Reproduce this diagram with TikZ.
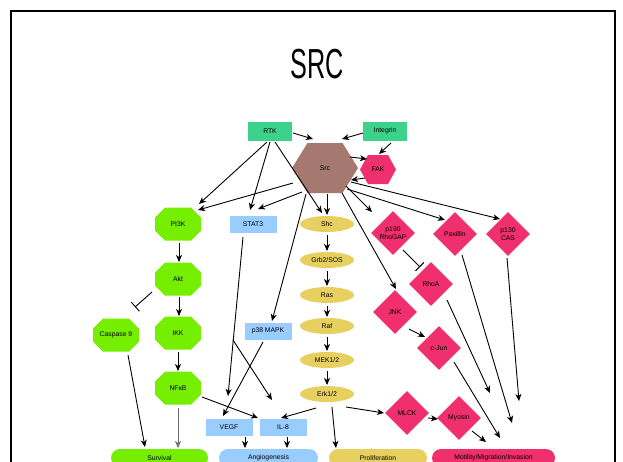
\documentclass[tikz,border=0pt]{standalone}
\usepackage{fontspec}
\setmainfont{Liberation Sans}
\newfontfamily\titlefont[FakeStretch=0.6]{Liberation Sans}
\usetikzlibrary{shapes.geometric,arrows.meta}
\definecolor{rtkgreen}{RGB}{60,210,140}
\definecolor{srcbrown}{RGB}{165,120,112}
\definecolor{hotpink}{RGB}{240,48,110}
\definecolor{limegr}{RGB}{118,238,0}
\definecolor{ltblue}{RGB}{153,204,255}
\definecolor{mustard}{RGB}{232,208,96}
\definecolor{arrgray}{RGB}{110,110,110}
\tikzset{
  lbl/.style={font=\fontsize{6.8}{8}\selectfont, text=black, inner sep=0pt},
  greenbox/.style={lbl, rectangle, fill=rtkgreen, minimum width=44pt, minimum height=19pt},
  bluebox/.style={lbl, rectangle, fill=ltblue, minimum width=47pt, minimum height=17pt},
  yellipse/.style={lbl, ellipse, fill=mustard, minimum width=54pt, minimum height=16pt},
  pinkdia/.style={lbl, diamond, aspect=1, fill=hotpink, minimum width=44pt, minimum height=44pt, align=center},
  outcome/.style={lbl, rectangle, rounded corners=9pt, minimum height=18pt},
  octlbl/.style={lbl, rectangle, minimum width=46pt, minimum height=33pt},
  arr/.style={draw=black, line width=0.9pt, -{Stealth[length=7pt,width=6pt,inset=2pt]}},
  inh/.style={draw=black, line width=0.9pt, -{Bar[width=12pt]}},
}
% octagon 46x33 with chamfer 10
\newcommand\octshape[3]{%
  \fill[#3] (#1-23,#2-6.5) -- (#1-13,#2-16.5) -- (#1+13,#2-16.5) -- (#1+23,#2-6.5)
   -- (#1+23,#2+6.5) -- (#1+13,#2+16.5) -- (#1-13,#2+16.5) -- (#1-23,#2+6.5) -- cycle;}
% hexagon: x y halfw halfh inset colour
\newcommand\hexshape[6]{%
  \fill[#6] (#1-#3,#2) -- (#1-#3+#5,#2-#4) -- (#1+#3-#5,#2-#4) -- (#1+#3,#2)
   -- (#1+#3-#5,#2+#4) -- (#1-#3+#5,#2+#4) -- cycle;}
\begin{document}
\begin{tikzpicture}[x=1pt,y=-1pt]
\useasboundingbox (0,0) rectangle (623,461);
\clip (0,0) rectangle (623,461);
\fill[white] (0,0) rectangle (623,461);
\draw[line width=2pt] (10.5,10.5) rectangle (615,520);
\node[font=\titlefont\fontsize{42}{42}\selectfont, anchor=base, inner sep=0pt] (title) at (317,78) {SRC};

% top
\node[greenbox] (rtk) at (270,131) {RTK};
\node[greenbox] (integ) at (385,131) {Integrin};
\hexshape{325}{168}{33}{25}{15.5}{srcbrown}
\node[lbl, minimum width=66pt, minimum height=50pt] (src) at (325,168) {Src};
\hexshape{378}{169.5}{18}{14.5}{8}{hotpink}
\node[lbl, minimum width=36pt, minimum height=29pt] (fak) at (378,169.5) {FAK};

% green column
\octshape{178}{224}{limegr}
\node[octlbl] (pi3k) at (178,224) {PI3K};
\octshape{178}{279}{limegr}
\node[octlbl] (akt) at (178,279) {Akt};
\octshape{178}{333}{limegr}
\node[octlbl] (ikk) at (178,333) {IKK};
\octshape{178}{388}{limegr}
\node[octlbl] (nfkb) at (178,388) {NFκB};
\octshape{116}{335}{limegr}
\node[octlbl] (casp) at (116,335) {Caspase 9};

% blue
\node[bluebox] (stat3) at (253,224) {STAT3};
\node[bluebox] (p38) at (268,331) {p38 MAPK};
\node[bluebox] (vegf) at (229,427) {VEGF};
\node[bluebox] (il8) at (283,427) {IL-8};

% yellow
\node[yellipse] (shc) at (327,224) {Shc};
\node[yellipse] (grb) at (327,260) {Grb2/SOS};
\node[yellipse] (ras) at (327,295) {Ras};
\node[yellipse] (raf) at (327,326) {Raf};
\node[yellipse] (mek) at (327,360) {MEK1/2};
\node[yellipse] (erk) at (327,394) {Erk1/2};

% pink diamonds
\node[pinkdia] (p190) at (393,233) {p190\\RhoGAP};
\node[pinkdia] (pax) at (455,234) {Paxillin};
\node[pinkdia] (p130) at (508,234) {p130\\CAS};
\node[pinkdia] (rhoa) at (431,284) {RhoA};
\node[pinkdia] (jnk) at (395,312) {JNK};
\node[pinkdia] (cjun) at (439,348) {c-Jun};
\node[pinkdia] (mlck) at (407,413) {MLCK};
\node[pinkdia] (myo) at (459,418) {Myosin};

% outcomes
\node[outcome, fill=limegr, minimum width=97pt] (surv) at (159.5,458) {Survival};
\node[outcome, fill=ltblue, minimum width=99pt] (angio) at (268.5,458) {Angiogenesis};
\node[outcome, fill=mustard, minimum width=98pt] (prolif) at (378,458) {Proliferation};
\node[outcome, fill=hotpink, minimum width=123pt] (motil) at (493.5,458) {Motility/Migration/Invasion};

% connectors
\draw[arr] ([shift={(23,2)}]rtk.center) -- ([shift={(-12,-29)}]src.center);
\draw[arr] ([shift={(-22,2)}]integ.center) -- ([shift={(17,-29)}]src.center);
\draw[arr] ([shift={(6,12)}]integ.center) -- ([shift={(1,-15.5)}]fak.center);
\draw[arr] ([shift={(25,-11)}]src.center) -- ([shift={(-11,-10.5)}]fak.center);
\draw[arr] ([shift={(-13,8.5)}]fak.center) -- ([shift={(26,12)}]src.center);

\draw[arr] ([shift={(-3,11)}]rtk.center) -- ([shift={(21,-20)}]pi3k.center);
\draw[arr] ([shift={(-32,15)}]src.center) -- ([shift={(20,-14)}]pi3k.center);
\draw[arr] ([shift={(0,11)}]rtk.center) -- ([shift={(-3,-14)}]stat3.center);
\draw[arr] ([shift={(-23,24)}]src.center) -- ([shift={(5,-15)}]stat3.center);
\draw[arr] ([shift={(5,11)}]rtk.center) -- ([shift={(-5,-11)}]shc.center);
\draw[arr] ([shift={(2,26)}]src.center) -- ([shift={(0,-9)}]shc.center);
\draw[arr] ([shift={(-19,26)}]src.center) -- ([shift={(4,-10)}]p38.center);
\draw[arr] ([shift={(21,18)}]src.center) -- ([shift={(-21,-21)}]p190.center);
\draw[arr] ([shift={(22,21)}]src.center) -- ([shift={(-10,-14)}]pax.center);
\draw[arr] ([shift={(26,14)}]src.center) -- ([shift={(-8,-15)}]p130.center);
\draw[arr] ([shift={(17,25)}]src.center) -- ([shift={(1,-23)}]jnk.center);
\draw[inh] ([shift={(10,17)}]p190.center) -- ([shift={(-11,-17)}]rhoa.center);
\draw[arr] ([shift={(14,17)}]jnk.center) -- ([shift={(-14,-11)}]cjun.center);

\draw[arr] ([shift={(0,11)}]shc.center) -- ([shift={(0,-9)}]grb.center);
\draw[arr] ([shift={(0,11)}]grb.center) -- ([shift={(0,-9)}]ras.center);
\draw[arr] ([shift={(0,11)}]ras.center) -- ([shift={(0,-9)}]raf.center);
\draw[arr] ([shift={(0,11)}]raf.center) -- ([shift={(0,-9)}]mek.center);
\draw[arr] ([shift={(0,11)}]mek.center) -- ([shift={(0,-9)}]erk.center);

\draw[arr] ([shift={(1,19)}]pi3k.center) -- ([shift={(1,-17)}]akt.center);
\draw[arr] ([shift={(1,18)}]akt.center) -- ([shift={(1,-17)}]ikk.center);
\draw[inh] ([shift={(-26,13)}]akt.center) -- ([shift={(19,-28)}]casp.center);
\draw[arr] ([shift={(0,19)}]ikk.center) -- ([shift={(0,-17)}]nfkb.center);
\draw[arr, draw=arrgray] ([shift={(0,20)}]nfkb.center) -- ([shift={(18.5,-10)}]surv.center);
\draw[arr] ([shift={(12,20)}]casp.center) -- ([shift={(-14.5,-11)}]surv.center);

\draw[arr] ([shift={(-10,13)}]stat3.center) -- ([shift={(-1,-31)}]vegf.center);
\coordinate (brk) at (233,340);
\draw[arr] (brk) -- ([shift={(-11,-27)}]il8.center);
\draw[arr] ([shift={(-5,11)}]p38.center) -- ([shift={(-6,-11)}]vegf.center);
\draw[arr] ([shift={(24,9)}]nfkb.center) -- ([shift={(-25,-9)}]il8.center);
\draw[arr] ([shift={(-11,14)}]erk.center) -- ([shift={(-2,-9)}]il8.center);
\draw[arr] ([shift={(16,10)}]vegf.center) -- ([shift={(-23.5,-10)}]angio.center);
\draw[arr] ([shift={(4,10)}]il8.center) -- ([shift={(18.5,-10)}]angio.center);
\draw[arr] ([shift={(5,13)}]erk.center) -- ([shift={(-42,-10)}]prolif.center);
\draw[arr] ([shift={(19,13)}]erk.center) -- ([shift={(-23,0)}]mlck.center);
\draw[arr] ([shift={(21,5)}]mlck.center) -- ([shift={(-21,1)}]myo.center);
\draw[arr] ([shift={(13,13)}]myo.center) -- ([shift={(-7.5,-16)}]motil.center);
\draw[arr] ([shift={(15,14)}]cjun.center) -- ([shift={(6.5,-20)}]motil.center);
\draw[arr] ([shift={(16,16)}]rhoa.center) -- ([shift={(-3.5,-65)}]motil.center);
\draw[arr] ([shift={(7,21)}]pax.center) -- ([shift={(18.5,-35)}]motil.center);
\draw[arr] ([shift={(-1,24)}]p130.center) -- ([shift={(25.5,-57)}]motil.center);
\end{tikzpicture}
\end{document}
